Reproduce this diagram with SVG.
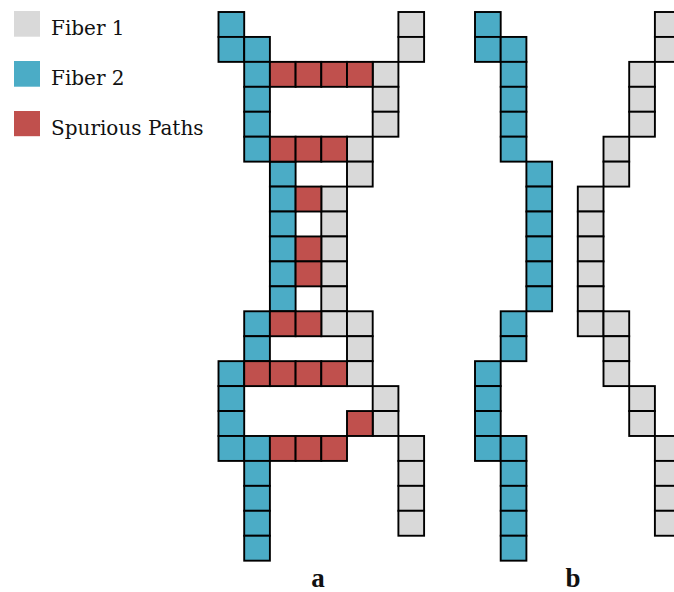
<svg xmlns="http://www.w3.org/2000/svg" width="674" height="592" viewBox="0 0 674 592">
  <style>
    .cell { stroke: #000; stroke-width: 1.9; }
    .f1 { fill: #D9D9D9; }
    .f2 { fill: #4BACC6; }
    .sp { fill: #C0504D; }
    .lbl { font-family: "DejaVu Serif", "Liberation Serif", serif; font-size: 20px; fill: #111; }
    .cap { font-family: "Liberation Serif", "DejaVu Serif", serif; font-size: 27px; font-weight: bold; fill: #111; text-anchor: middle; }
  </style>
  <defs>
    <rect id="cell" width="25.7" height="24.94"/>
  </defs>

  <!-- legend -->
  <g id="legend">
    <rect x="14" y="11" width="26" height="25.7" class="f1"/>
    <rect x="14" y="61" width="26" height="25.7" class="f2"/>
    <rect x="14" y="111" width="26" height="25.2" class="sp"/>
    <text x="51" y="35" class="lbl">Fiber 1</text>
    <text x="51" y="85" class="lbl">Fiber 2</text>
    <text x="51" y="135" class="lbl">Spurious Paths</text>
  </g>

  <!-- panel a: two fibers with spurious bridging paths -->
  <g id="panel-a" transform="translate(218.5,12)">
    <g id="a-fiber2" class="cell f2">
      <use href="#cell" x="0" y="0"/>
      <use href="#cell" x="0" y="24.94"/>
      <use href="#cell" x="25.7" y="24.94"/>
      <use href="#cell" x="25.7" y="49.88"/>
      <use href="#cell" x="25.7" y="74.82"/>
      <use href="#cell" x="25.7" y="99.76"/>
      <use href="#cell" x="25.7" y="124.7"/>
      <use href="#cell" x="51.4" y="149.64"/>
      <use href="#cell" x="51.4" y="174.58"/>
      <use href="#cell" x="51.4" y="199.52"/>
      <use href="#cell" x="51.4" y="224.46"/>
      <use href="#cell" x="51.4" y="249.4"/>
      <use href="#cell" x="51.4" y="274.34"/>
      <use href="#cell" x="25.7" y="299.28"/>
      <use href="#cell" x="25.7" y="324.22"/>
      <use href="#cell" x="0" y="349.16"/>
      <use href="#cell" x="0" y="374.1"/>
      <use href="#cell" x="0" y="399.04"/>
      <use href="#cell" x="0" y="423.98"/>
      <use href="#cell" x="25.7" y="423.98"/>
      <use href="#cell" x="25.7" y="448.92"/>
      <use href="#cell" x="25.7" y="473.86"/>
      <use href="#cell" x="25.7" y="498.8"/>
      <use href="#cell" x="25.7" y="523.74"/>
    </g>
    <g id="a-fiber1" class="cell f1">
      <use href="#cell" x="179.9" y="0"/>
      <use href="#cell" x="179.9" y="24.94"/>
      <use href="#cell" x="154.2" y="49.88"/>
      <use href="#cell" x="154.2" y="74.82"/>
      <use href="#cell" x="154.2" y="99.76"/>
      <use href="#cell" x="128.5" y="124.7"/>
      <use href="#cell" x="128.5" y="149.64"/>
      <use href="#cell" x="102.8" y="174.58"/>
      <use href="#cell" x="102.8" y="199.52"/>
      <use href="#cell" x="102.8" y="224.46"/>
      <use href="#cell" x="102.8" y="249.4"/>
      <use href="#cell" x="102.8" y="274.34"/>
      <use href="#cell" x="102.8" y="299.28"/>
      <use href="#cell" x="128.5" y="299.28"/>
      <use href="#cell" x="128.5" y="324.22"/>
      <use href="#cell" x="128.5" y="349.16"/>
      <use href="#cell" x="154.2" y="374.1"/>
      <use href="#cell" x="154.2" y="399.04"/>
      <use href="#cell" x="179.9" y="423.98"/>
      <use href="#cell" x="179.9" y="448.92"/>
      <use href="#cell" x="179.9" y="473.86"/>
      <use href="#cell" x="179.9" y="498.8"/>
    </g>
    <g id="a-spurious" class="cell sp">
      <use href="#cell" x="51.4" y="49.88"/>
      <use href="#cell" x="77.1" y="49.88"/>
      <use href="#cell" x="102.8" y="49.88"/>
      <use href="#cell" x="128.5" y="49.88"/>
      <use href="#cell" x="51.4" y="124.7"/>
      <use href="#cell" x="77.1" y="124.7"/>
      <use href="#cell" x="102.8" y="124.7"/>
      <use href="#cell" x="77.1" y="174.58"/>
      <use href="#cell" x="77.1" y="224.46"/>
      <use href="#cell" x="77.1" y="249.4"/>
      <use href="#cell" x="51.4" y="299.28"/>
      <use href="#cell" x="77.1" y="299.28"/>
      <use href="#cell" x="25.7" y="349.16"/>
      <use href="#cell" x="51.4" y="349.16"/>
      <use href="#cell" x="77.1" y="349.16"/>
      <use href="#cell" x="102.8" y="349.16"/>
      <use href="#cell" x="128.5" y="399.04"/>
      <use href="#cell" x="51.4" y="423.98"/>
      <use href="#cell" x="77.1" y="423.98"/>
      <use href="#cell" x="102.8" y="423.98"/>
    </g>
  </g>

  <!-- panel b: the same two fibers without spurious paths -->
  <g id="panel-b" transform="translate(475,12)">
    <g id="b-fiber2" class="cell f2">
      <use href="#cell" x="0" y="0"/>
      <use href="#cell" x="0" y="24.94"/>
      <use href="#cell" x="25.7" y="24.94"/>
      <use href="#cell" x="25.7" y="49.88"/>
      <use href="#cell" x="25.7" y="74.82"/>
      <use href="#cell" x="25.7" y="99.76"/>
      <use href="#cell" x="25.7" y="124.7"/>
      <use href="#cell" x="51.4" y="149.64"/>
      <use href="#cell" x="51.4" y="174.58"/>
      <use href="#cell" x="51.4" y="199.52"/>
      <use href="#cell" x="51.4" y="224.46"/>
      <use href="#cell" x="51.4" y="249.4"/>
      <use href="#cell" x="51.4" y="274.34"/>
      <use href="#cell" x="25.7" y="299.28"/>
      <use href="#cell" x="25.7" y="324.22"/>
      <use href="#cell" x="0" y="349.16"/>
      <use href="#cell" x="0" y="374.1"/>
      <use href="#cell" x="0" y="399.04"/>
      <use href="#cell" x="0" y="423.98"/>
      <use href="#cell" x="25.7" y="423.98"/>
      <use href="#cell" x="25.7" y="448.92"/>
      <use href="#cell" x="25.7" y="473.86"/>
      <use href="#cell" x="25.7" y="498.8"/>
      <use href="#cell" x="25.7" y="523.74"/>
    </g>
    <g id="b-fiber1" class="cell f1">
      <use href="#cell" x="179.9" y="0"/>
      <use href="#cell" x="179.9" y="24.94"/>
      <use href="#cell" x="154.2" y="49.88"/>
      <use href="#cell" x="154.2" y="74.82"/>
      <use href="#cell" x="154.2" y="99.76"/>
      <use href="#cell" x="128.5" y="124.7"/>
      <use href="#cell" x="128.5" y="149.64"/>
      <use href="#cell" x="102.8" y="174.58"/>
      <use href="#cell" x="102.8" y="199.52"/>
      <use href="#cell" x="102.8" y="224.46"/>
      <use href="#cell" x="102.8" y="249.4"/>
      <use href="#cell" x="102.8" y="274.34"/>
      <use href="#cell" x="102.8" y="299.28"/>
      <use href="#cell" x="128.5" y="299.28"/>
      <use href="#cell" x="128.5" y="324.22"/>
      <use href="#cell" x="128.5" y="349.16"/>
      <use href="#cell" x="154.2" y="374.1"/>
      <use href="#cell" x="154.2" y="399.04"/>
      <use href="#cell" x="179.9" y="423.98"/>
      <use href="#cell" x="179.9" y="448.92"/>
      <use href="#cell" x="179.9" y="473.86"/>
      <use href="#cell" x="179.9" y="498.8"/>
    </g>
  </g>

  <!-- panel captions -->
  <text x="318" y="587" class="cap">a</text>
  <text x="573" y="587" class="cap">b</text>
</svg>
